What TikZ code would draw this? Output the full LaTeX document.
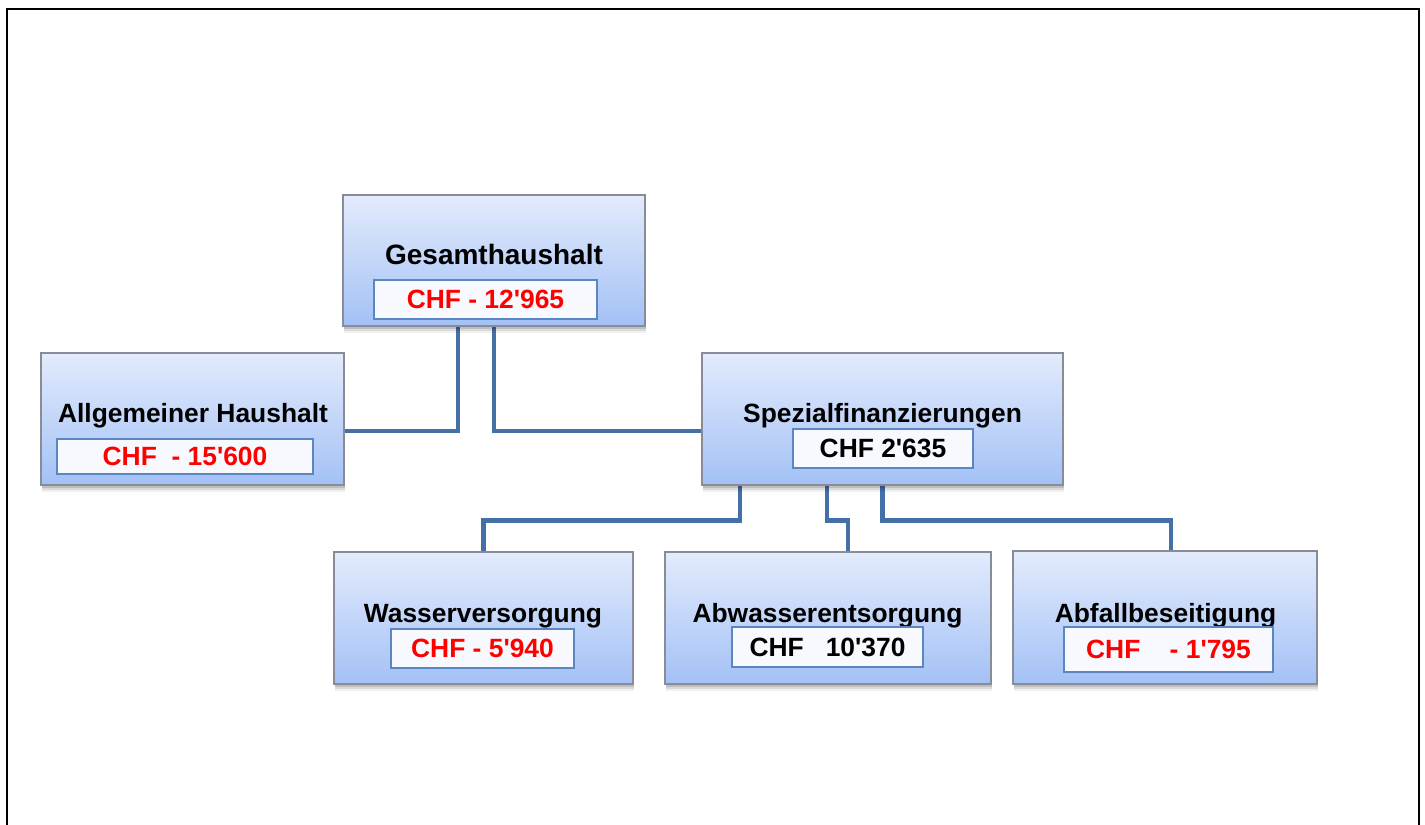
\documentclass[tikz,border=0pt]{standalone}
\usepackage{fontspec}
\setmainfont{Liberation Sans}[Ligatures=TeXOff]
\usetikzlibrary{calc,shadows}
\definecolor{boxtop}{RGB}{227,235,252}
\definecolor{boxbot}{RGB}{163,193,246}
\definecolor{boxline}{RGB}{135,140,150}
\definecolor{valline}{RGB}{92,134,192}
\definecolor{valfill}{RGB}{247,249,254}
\definecolor{conn}{RGB}{68,112,168}
\definecolor{valred}{RGB}{255,0,0}
\pgfdeclarelayer{background}
\pgfsetlayers{background,main}
\begin{document}
\begin{tikzpicture}[x=0.75pt,y=-0.75pt,
  unitbox/.style={draw=boxline, line width=0.8pt, top color=boxtop, bottom color=boxbot,
    drop shadow={shadow xshift=0.5pt, shadow yshift=-5.5pt, opacity=0.06, fill=black},
    drop shadow={shadow xshift=0.5pt, shadow yshift=-4pt, opacity=0.09, fill=black},
    drop shadow={shadow xshift=0.5pt, shadow yshift=-2.5pt, opacity=0.13, fill=black},
    inner sep=0pt, minimum height=99pt},
  valbox/.style={draw=valline, line width=1.2pt, fill=valfill, inner sep=0pt,
    font=\fontsize{19.8}{22}\selectfont\bfseries},
  title/.style={anchor=base, inner sep=0pt, font=\fontsize{19.8}{22}\selectfont\bfseries},
  link/.style={draw=conn, line width=3.7pt, line join=miter}]
\useasboundingbox (0,0) rectangle (1425,825);
\begin{scope}
\clip (0,0) rectangle (1425,825);
\draw[line width=1.5pt] (7,9) rectangle (1419,850);
\end{scope}

% main boxes
\node[unitbox, minimum width=226.5pt, minimum height=98.25pt] (ges) at (494,260.5) {};
\node[unitbox, minimum width=227.25pt] (allg) at (192.5,419) {};
\node[unitbox, minimum width=270.75pt] (spez) at (882.5,419) {};
\node[unitbox, minimum width=224.25pt] (wass) at (483.5,618) {};
\node[unitbox, minimum width=244.5pt] (abw) at (828,618) {};
\node[unitbox, minimum width=228pt, minimum height=99.75pt] (abf) at (1165,617.5) {};

% titles
\node[title, font=\fontsize{21}{24}\selectfont\bfseries] (gest) at (494,264) {Gesamthaushalt};
\node[title] (allgt) at (193,422) {Allgemeiner\ Haushalt};
\node[title] (spezt) at (882.5,422) {Spezialfinanzierungen};
\node[title] (wasst) at (483,622) {Wasserversorgung};
\node[title] (abwt) at (827.5,622) {Abwasserentsorgung};
\node[title] (abft) at (1165.5,622) {Abfallbeseitigung};

% value boxes
\node[valbox, text=valred, minimum width=167.25pt, minimum height=29.25pt] (gesv) at (485.5,299.5) {CHF - 12'965};
\node[valbox, text=valred, minimum width=192pt, minimum height=26.25pt] (allgv) at (185,456.5) {CHF\ \ - 15'600};
\node[valbox, text=black, minimum width=135pt, minimum height=29.25pt] (spezv) at (883,448.5) {CHF 2'635};
\node[valbox, text=valred, minimum width=137.25pt, minimum height=29.25pt] (wassv) at (482.5,648.5) {CHF - 5'940};
\node[valbox, text=black, minimum width=143.25pt, minimum height=30pt] (abwv) at (827.5,647) {CHF\ \ \ 10'370};
\node[valbox, text=valred, minimum width=156.75pt, minimum height=33.75pt] (abfv) at (1168.5,649.5) {CHF\ \ \ \ - 1'795};

% connectors
\begin{pgfonlayer}{background}
\draw[link] ($(ges.south)+(-36,0)$) |- ($(allg.east)+(0,12)$);
\draw[link] (ges.south) |- ($(spez.west)+(0,12)$);
\draw[link] ($(spez.south)+(-142.5,0)$) -- ++(0,35) -| (wass.north);
\draw[link] ($(spez.south)+(-55.5,0)$) -- ++(0,35) -| ($(abw.north)+(20,0)$);
\draw[link] (spez.south) -- ++(0,35) -| ($(abf.north)+(6,0)$);
\end{pgfonlayer}
\end{tikzpicture}
\end{document}
